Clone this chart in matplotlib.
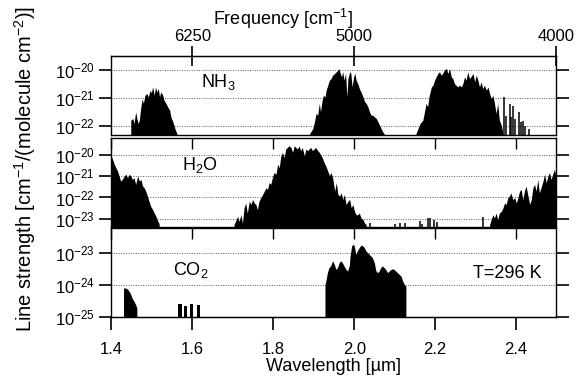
import numpy as np
import matplotlib
matplotlib.use('Agg')
import matplotlib.pyplot as plt
from matplotlib.ticker import NullLocator

plt.rcParams['font.family'] = ['Liberation Sans', 'DejaVu Sans']
plt.rcParams['mathtext.fontset'] = 'custom'
plt.rcParams['mathtext.rm'] = 'Liberation Sans'
plt.rcParams['mathtext.it'] = 'Liberation Sans:italic'
plt.rcParams['mathtext.default'] = 'regular'

# ---- data: wavelength [um] and log10(line strength) ----
wl_ticks = [1.4, 1.6, 1.8, 2.0, 2.2, 2.4]
freq_ticks = [6250, 5000, 4000]

# NH3
nh3_b1_wl = [1.449, 1.454, 1.457, 1.461, 1.464, 1.467, 1.470, 1.474, 1.477, 1.480, 1.484, 1.489, 1.492,
             1.497, 1.500, 1.503, 1.507, 1.510, 1.513, 1.517, 1.520, 1.523, 1.528, 1.531, 1.536, 1.540,
             1.545, 1.548, 1.553, 1.558, 1.563]
nh3_b1_log = [-21.81, -21.75, -21.93, -21.51, -21.75, -21.93, -21.81, -21.33, -21.04, -21.21, -20.92,
              -20.86, -20.98, -20.74, -20.83, -20.62, -20.92, -20.62, -20.80, -20.68, -20.98, -20.80,
              -20.92, -21.10, -21.21, -21.33, -21.45, -21.69, -21.87, -22.11, -22.29]

nh3_b2_wl = [1.891, 1.899, 1.903, 1.907, 1.911, 1.915, 1.918, 1.922, 1.925, 1.929, 1.932, 1.936, 1.940,
             1.944, 1.948, 1.953, 1.957, 1.961, 1.963, 1.967, 1.970, 1.973, 1.976, 1.980, 1.983, 1.986,
             1.990, 1.993, 1.996, 2.000, 2.003, 2.006, 2.010, 2.014, 2.018, 2.023, 2.027, 2.031, 2.035,
             2.039, 2.043, 2.047, 2.051, 2.056, 2.060, 2.064, 2.068, 2.072, 2.076]
nh3_b2_log = [-22.29, -22.11, -21.87, -21.57, -21.63, -21.21, -21.51, -21.10, -20.92, -20.98, -20.74,
              -20.56, -20.38, -20.32, -20.20, -20.14, -20.08, -20.02, -19.96, -20.14, -20.26, -20.08,
              -20.38, -20.14, -20.98, -20.32, -20.08, -20.14, -20.62, -20.26, -20.14, -20.38, -20.50,
              -20.68, -20.80, -20.98, -21.15, -21.21, -21.33, -21.51, -21.63, -21.63, -21.69, -21.75,
              -21.87, -21.99, -22.11, -22.23, -22.31]

nh3_b3_wl = [2.154, 2.159, 2.164, 2.171, 2.175, 2.179, 2.183, 2.186, 2.189, 2.192, 2.196, 2.200, 2.204,
             2.208, 2.212, 2.216, 2.220, 2.224, 2.229, 2.233, 2.237, 2.241, 2.245, 2.249, 2.253, 2.257,
             2.262, 2.266, 2.270, 2.274, 2.278, 2.282, 2.286, 2.290, 2.295, 2.299, 2.303, 2.307, 2.311,
             2.315, 2.319, 2.323, 2.328, 2.332, 2.336, 2.340, 2.344, 2.348, 2.352, 2.356, 2.360, 2.365,
             2.369]
nh3_b3_log = [-22.29, -22.11, -21.93, -21.81, -21.51, -21.21, -21.33, -20.98, -20.80, -20.62, -20.56,
              -20.38, -20.26, -20.14, -20.08, -20.20, -20.14, -20.02, -19.96, -20.14, -19.96, -20.26,
              -20.32, -20.50, -20.56, -20.62, -20.56, -20.62, -20.50, -20.26, -20.38, -20.08, -20.32,
              -20.26, -20.14, -20.44, -20.20, -20.38, -20.62, -20.44, -20.68, -20.56, -20.74, -20.62,
              -20.86, -21.04, -20.92, -21.21, -21.57, -21.21, -21.81, -21.99, -22.29]

nh3_lines_wl = [2.370, 2.375, 2.384, 2.388, 2.393, 2.398, 2.407, 2.412, 2.418, 2.423, 2.433]
nh3_lines_log = [-20.98, -21.63, -21.21, -21.69, -21.27, -21.75, -21.51, -21.87, -21.81, -21.99, -22.11]

# H2O
h2o_b1_wl = [1.400, 1.404, 1.408, 1.412, 1.416, 1.420, 1.424, 1.428, 1.433, 1.437, 1.441, 1.445, 1.449,
             1.453, 1.457, 1.461, 1.466, 1.470, 1.474, 1.478, 1.482, 1.486, 1.490, 1.494, 1.498, 1.503,
             1.507, 1.511, 1.515, 1.519]
h2o_b1_log = [-20.08, -20.24, -20.47, -20.63, -20.78, -21.02, -21.26, -21.18, -21.02, -20.94, -21.10,
              -20.94, -21.02, -21.18, -21.10, -21.41, -21.02, -21.26, -21.18, -21.49, -21.57, -21.73,
              -21.96, -22.20, -22.43, -22.59, -22.75, -22.90, -23.09, -23.25]

h2o_b2_wl = [1.704, 1.709, 1.713, 1.717, 1.721, 1.725, 1.729, 1.733, 1.737, 1.742, 1.746, 1.750, 1.754,
             1.758, 1.762, 1.766, 1.770, 1.775, 1.779, 1.783, 1.787, 1.791, 1.795, 1.799, 1.803, 1.808,
             1.812, 1.816, 1.820, 1.824, 1.828, 1.832, 1.836, 1.840, 1.845, 1.849, 1.853, 1.857, 1.861,
             1.865, 1.869, 1.873, 1.878, 1.882, 1.886, 1.890, 1.894, 1.898, 1.902, 1.906, 1.911, 1.915,
             1.919, 1.923, 1.927, 1.931, 1.935, 1.940, 1.944, 1.948, 1.953, 1.957, 1.961, 1.965, 1.969,
             1.973, 1.977, 1.981, 1.986, 1.990, 1.994, 1.998, 2.002, 2.006, 2.010, 2.014, 2.018, 2.023,
             2.027, 2.031]
h2o_b2_log = [-23.30, -23.09, -22.90, -23.14, -22.83, -23.22, -22.51, -22.28, -22.75, -22.20, -22.35,
              -22.12, -22.28, -22.35, -22.59, -22.20, -22.04, -21.88, -21.73, -21.57, -21.65, -21.33,
              -21.41, -21.10, -20.86, -20.94, -20.47, -20.63, -20.08, -19.92, -20.16, -19.76, -19.69,
              -19.61, -19.69, -19.92, -19.61, -19.69, -19.76, -19.61, -19.84, -19.69, -20.08, -19.76,
              -19.84, -19.76, -19.69, -19.84, -19.76, -19.69, -19.84, -19.92, -20.05, -20.20, -20.40,
              -20.55, -20.75, -21.00, -20.86, -21.10, -21.73, -21.33, -21.88, -21.96, -21.81, -22.12,
              -21.88, -22.35, -22.20, -22.12, -22.51, -22.35, -22.67, -22.83, -22.83, -22.75, -22.98,
              -23.06, -23.22, -23.30]

h2o_lines_wl = [2.039, 2.101, 2.113, 2.126, 2.163, 2.167, 2.182, 2.187, 2.197, 2.205, 2.318]
h2o_lines_log = [-23.19, -23.22, -23.19, -23.19, -23.09, -23.22, -22.98, -22.98, -23.03, -23.14, -22.90]

h2o_b3_wl = [2.336, 2.340, 2.344, 2.348, 2.352, 2.356, 2.360, 2.365, 2.369, 2.373, 2.377, 2.381, 2.385,
             2.389, 2.393, 2.398, 2.402, 2.406, 2.410, 2.414, 2.418, 2.422, 2.426, 2.431, 2.435, 2.439,
             2.443, 2.447, 2.451, 2.455, 2.459, 2.463, 2.468, 2.472, 2.476, 2.480, 2.484, 2.488, 2.492,
             2.496, 2.500]
h2o_b3_log = [-23.30, -23.06, -22.83, -22.98, -22.75, -23.06, -22.75, -22.67, -22.51, -22.28, -22.35,
              -22.04, -21.96, -21.81, -22.12, -22.04, -22.28, -22.04, -21.73, -21.65, -22.12, -21.73,
              -21.49, -21.96, -22.35, -22.12, -21.57, -21.41, -21.73, -21.18, -21.81, -21.57, -21.26,
              -20.94, -21.33, -21.02, -20.86, -21.18, -20.94, -20.71, -21.02]

# CO2
co2_b1_wl = [1.431, 1.437, 1.442, 1.447, 1.452, 1.457, 1.461, 1.464]
co2_b1_log = [-24.11, -24.11, -24.16, -24.26, -24.42, -24.53, -24.63, -24.74]

co2_b2_wl = [1.570, 1.583, 1.598, 1.615]
co2_b2_log = [-24.58, -24.66, -24.58, -24.63]

co2_b3_wl = [1.929, 1.932, 1.935, 1.939, 1.943, 1.948, 1.952, 1.956, 1.960, 1.964, 1.968, 1.972, 1.976,
             1.981, 1.985, 1.989, 1.991, 1.995, 2.000, 2.003, 2.005, 2.009, 2.014, 2.018, 2.022, 2.026,
             2.030, 2.034, 2.038, 2.042, 2.046, 2.051, 2.055, 2.059, 2.063, 2.067, 2.071, 2.075, 2.079,
             2.084, 2.088, 2.092, 2.096, 2.100, 2.104, 2.108, 2.112, 2.117, 2.121, 2.125, 2.129]
co2_b3_log = [-24.00, -23.84, -23.63, -23.47, -23.42, -23.26, -23.37, -23.53, -23.47, -23.32, -23.26,
              -23.32, -23.42, -23.53, -23.58, -23.42, -23.11, -22.79, -22.74, -22.89, -23.05, -22.95,
              -22.84, -22.77, -22.79, -22.84, -22.95, -23.00, -23.05, -23.11, -23.16, -23.32, -23.58,
              -23.63, -23.58, -23.47, -23.42, -23.47, -23.53, -23.63, -23.58, -23.53, -23.51, -23.53,
              -23.58, -23.63, -23.68, -23.74, -23.89, -24.00, -24.05]


def fill_band(ax, wl, logs):
    floor = ax.get_ylim()[0]
    ax.fill_between(wl, 10.0 ** np.array(logs), floor, facecolor='k', lw=0, zorder=2)


def sticks(ax, wl, logs, lw=1.1):
    floor = ax.get_ylim()[0]
    ax.vlines(wl, floor, 10.0 ** np.array(logs), color='k', lw=lw, zorder=2)


def style(ax, ylo, yhi, decades):
    ax.set_yscale('log')
    ax.set_xlim(1.4, 2.5)
    ax.set_ylim(10.0 ** ylo, 10.0 ** yhi)
    ax.set_autoscale_on(False)
    ax.set_yticks([10.0 ** e for e in decades])
    ax.set_yticklabels(['$10^{%d}$' % e for e in decades])
    ax.yaxis.set_minor_locator(NullLocator())
    ax.set_xticks(wl_ticks)
    ax.tick_params(axis='y', which='major', direction='out', length=9, width=1.2,
                   left=True, right=True, labelsize=12, pad=3)
    ax.tick_params(axis='x', direction='in', length=8, width=1.0,
                   top=True, bottom=False, labelbottom=False)
    for e in decades:
        ax.axhline(10.0 ** e, color='0.35', lw=0.7, ls=(0, (1, 1.5)), zorder=0.5)
    for s in ax.spines.values():
        s.set_linewidth(1.0)
        s.set_zorder(3)


def to_freq(x):
    x = np.array(x, float)
    with np.errstate(divide='ignore'):
        return 1e4 / x


fig = plt.figure(figsize=(5.8, 3.81), dpi=100)
ax1 = fig.add_axes([0.1922, 0.6457, 0.7672, 0.2073])
ax2 = fig.add_axes([0.1922, 0.4042, 0.7672, 0.2349])
ax3 = fig.add_axes([0.1922, 0.168, 0.7672, 0.2336])

# NH3 panel
style(ax1, -22.32, -19.5, [-20, -21, -22])
ax1.tick_params(axis='x', top=False)
fill_band(ax1, nh3_b1_wl, nh3_b1_log)
fill_band(ax1, nh3_b2_wl, nh3_b2_log)
fill_band(ax1, nh3_b3_wl, nh3_b3_log)
sticks(ax1, nh3_lines_wl, nh3_lines_log)
ax1.text(1.622, 10 ** -20.61, 'NH$_3$', fontsize=13)

top = ax1.secondary_xaxis('top', functions=(to_freq, to_freq))
top.set_xticks(freq_ticks)
top.set_xticklabels([str(f) for f in freq_ticks])
top.tick_params(direction='inout', length=14, width=1.2, labelsize=12, pad=2)
top.xaxis.set_minor_locator(NullLocator())
fig.text(283 / 580, 1 - 19 / 381, 'Frequency [cm$^{-1}$]', ha='center', va='center', fontsize=13)

# H2O panel
style(ax2, -23.38, -19.2, [-20, -21, -22, -23])
fill_band(ax2, h2o_b1_wl, h2o_b1_log)
fill_band(ax2, h2o_b2_wl, h2o_b2_log)
fill_band(ax2, h2o_b3_wl, h2o_b3_log)
sticks(ax2, h2o_lines_wl, h2o_lines_log)
ax2.text(1.574, 10 ** -20.71, 'H$_2$O', fontsize=13)

# CO2 panel
style(ax3, -25.0, -22.22, [-23, -24, -25])
ax3.tick_params(axis='x', bottom=False, labelbottom=False)
fill_band(ax3, co2_b1_wl, co2_b1_log)
co2_floor = ax3.get_ylim()[0]
ax3.bar(co2_b2_wl, 10.0 ** np.array(co2_b2_log) - co2_floor, bottom=co2_floor, width=0.009,
        color='k', zorder=2)
fill_band(ax3, co2_b3_wl, co2_b3_log)
ax3.text(1.552, 10 ** -23.68, 'CO$_2$', fontsize=13)
ax3.text(2.294, 10 ** -23.79, 'T=296 K', fontsize=13)

bot = ax3.secondary_xaxis('bottom')
bot.set_xticks(wl_ticks)
bot.set_xticklabels(['%.1f' % v for v in wl_ticks])
bot.tick_params(direction='out', length=9, width=1.2, labelsize=12, pad=9)
bot.set_xlabel('Wavelength [\u00b5m]', fontsize=13, labelpad=1)

fig.text(25 / 580, 0.556, 'Line strength [cm$^{-1}$/(molecule cm$^{-2}$)]', rotation=90,
         ha='center', va='center', fontsize=14.5)

fig.savefig('out.png', dpi=100)
